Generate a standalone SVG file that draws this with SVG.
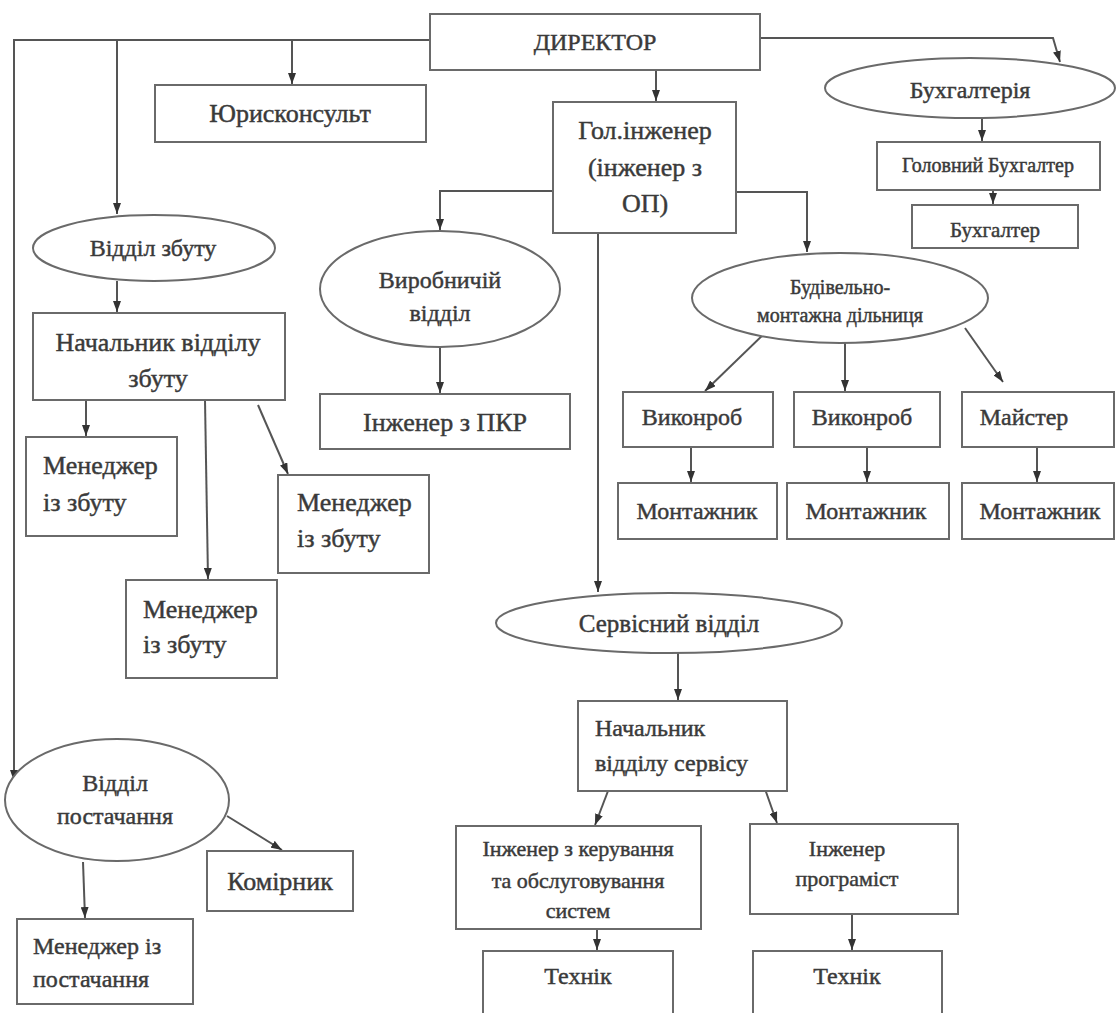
<svg xmlns="http://www.w3.org/2000/svg" width="1118" height="1013" viewBox="0 0 1118 1013">
<defs>
<style>
.n{fill:#fff;stroke:#6a6a6a;stroke-width:2}
.t{font-family:"Liberation Serif","Times New Roman",serif;fill:#3a3a3a;stroke:#3a3a3a;stroke-width:0.45;text-anchor:middle}
.l{text-anchor:start}
.f26{font-size:26px}.f25{font-size:25px}.f24{font-size:24px}.f22{font-size:22px}.f21{font-size:21px}.f20{font-size:20px}
.c{fill:none;stroke:#555;stroke-width:2;marker-end:url(#a)}
</style>
<marker id="a" viewBox="0 0 11 8" refX="11" refY="4" markerWidth="11" markerHeight="8" markerUnits="userSpaceOnUse" orient="auto">
<path d="M0,0 L11,4 L0,8 z" fill="#333"/>
</marker>
</defs>
<rect width="1118" height="1013" fill="#fff"/>
<g id="connectors">
<path class="c" d="M430,40 H14 V781"/>
<path class="c" d="M117,40 V214"/>
<path class="c" d="M292,40 V84"/>
<path class="c" d="M656,70 V101"/>
<path class="c" d="M760,38 H1053 L1060,62"/>
<path class="c" d="M982,118 V141"/>
<path class="c" d="M993,190 V204"/>
<path class="c" d="M553,191 H440 V230"/>
<path class="c" d="M736,192 H807 V252"/>
<path class="c" d="M598,233 V592"/>
<path class="c" d="M440,347 V393"/>
<path class="c" d="M768,330 L705,391"/>
<path class="c" d="M845,343 V391"/>
<path class="c" d="M965,328 L1003,382"/>
<path class="c" d="M691,447 V482"/>
<path class="c" d="M867,447 V482"/>
<path class="c" d="M1037,447 V482"/>
<path class="c" d="M117,281 V312"/>
<path class="c" d="M86,400 V436"/>
<path class="c" d="M205,400 L208,579"/>
<path class="c" d="M258,405 L288,474"/>
<path class="c" d="M678,653 V700"/>
<path class="c" d="M608,791 L595,825"/>
<path class="c" d="M765,789 L777,823"/>
<path class="c" d="M597,929 V950"/>
<path class="c" d="M852,914 V950"/>
<path class="c" d="M227,816 L282,850"/>
<path class="c" d="M83,862 L85,918"/>
</g>
<g id="director"><rect class="n" x="430" y="14" width="330" height="56"/><text class="t f24" x="595" y="50">ДИРЕКТОР</text></g>
<g id="jurist"><rect class="n" x="155" y="85" width="271" height="57"/><text class="t f26" x="290" y="122">Юрисконсульт</text></g>
<g id="chief-engineer"><rect class="n" x="553" y="102" width="183" height="131"/><text class="t f26"><tspan x="645" y="139">Гол.інженер</tspan><tspan x="645" y="176">(інженер з</tspan><tspan x="645" y="212">ОП)</tspan></text></g>
<g id="accounting"><ellipse class="n" cx="970" cy="88" rx="145" ry="30"/><text class="t f24" x="970" y="98">Бухгалтерія</text></g>
<g id="chief-accountant"><rect class="n" x="877" y="142" width="223" height="48"/><text class="t f20" x="988" y="172">Головний Бухгалтер</text></g>
<g id="accountant"><rect class="n" x="912" y="205" width="166" height="43"/><text class="t f21" x="995" y="237">Бухгалтер</text></g>
<g id="sales-dept"><ellipse class="n" cx="154" cy="248" rx="121" ry="33"/><text class="t f24" x="153" y="256">Відділ збуту</text></g>
<g id="production-dept"><ellipse class="n" cx="440" cy="289" rx="120" ry="58"/><text class="t f24"><tspan x="440" y="288">Виробничій</tspan><tspan x="440" y="321">відділ</tspan></text></g>
<g id="construction-site"><ellipse class="n" cx="840" cy="298" rx="148" ry="45"/><text class="t f20"><tspan x="840" y="294">Будівельно-</tspan><tspan x="840" y="322">монтажна дільниця</tspan></text></g>
<g id="sales-head"><rect class="n" x="33" y="313" width="252" height="87"/><text class="t f26"><tspan x="158" y="351">Начальник відділу</tspan><tspan x="158" y="387">збуту</tspan></text></g>
<g id="pkr-engineer"><rect class="n" x="320" y="394" width="250" height="55"/><text class="t f26" x="445" y="431">Інженер з ПКР</text></g>
<g id="foreman1"><rect class="n" x="623" y="392" width="150" height="55"/><text class="t f24" x="692" y="425">Виконроб</text></g>
<g id="foreman2"><rect class="n" x="794" y="392" width="146" height="55"/><text class="t f24" x="862" y="425">Виконроб</text></g>
<g id="master"><rect class="n" x="962" y="392" width="152" height="55"/><text class="t f24" x="1024" y="425">Майстер</text></g>
<g id="fitter1"><rect class="n" x="618" y="483" width="159" height="56"/><text class="t f24" x="697" y="519">Монтажник</text></g>
<g id="fitter2"><rect class="n" x="787" y="483" width="162" height="56"/><text class="t f24" x="866" y="519">Монтажник</text></g>
<g id="fitter3"><rect class="n" x="962" y="483" width="152" height="56"/><text class="t f24" x="1040" y="519">Монтажник</text></g>
<g id="sales-manager1"><rect class="n" x="26" y="437" width="151" height="99"/><text class="t l f26"><tspan x="43" y="474">Менеджер</tspan><tspan x="43" y="511">із збуту</tspan></text></g>
<g id="sales-manager2"><rect class="n" x="278" y="475" width="151" height="98"/><text class="t l f26"><tspan x="297" y="511">Менеджер</tspan><tspan x="297" y="547">із збуту</tspan></text></g>
<g id="sales-manager3"><rect class="n" x="126" y="580" width="151" height="98"/><text class="t l f26"><tspan x="143" y="618">Менеджер</tspan><tspan x="143" y="653">із збуту</tspan></text></g>
<g id="service-dept"><ellipse class="n" cx="669" cy="623" rx="173" ry="30"/><text class="t f25" x="669" y="632">Сервісний відділ</text></g>
<g id="service-head"><rect class="n" x="578" y="701" width="209" height="90"/><text class="t l f24"><tspan x="595" y="736">Начальник</tspan><tspan x="595" y="771">відділу сервісу</tspan></text></g>
<g id="control-engineer"><rect class="n" x="456" y="826" width="245" height="103"/><text class="t f22"><tspan x="578" y="856">Інженер з керування</tspan><tspan x="578" y="888">та обслуговування</tspan><tspan x="578" y="918">систем</tspan></text></g>
<g id="programmer"><rect class="n" x="750" y="824" width="208" height="90"/><text class="t f22"><tspan x="847" y="856">Інженер</tspan><tspan x="847" y="886">програміст</tspan></text></g>
<g id="technician1"><rect class="n" x="483" y="951" width="190" height="70"/><text class="t f24" x="578" y="984">Технік</text></g>
<g id="technician2"><rect class="n" x="753" y="951" width="189" height="70"/><text class="t f24" x="847" y="984">Технік</text></g>
<g id="supply-dept"><ellipse class="n" cx="117" cy="800" rx="112" ry="61"/><text class="t f24"><tspan x="115" y="791">Відділ</tspan><tspan x="115" y="824">постачання</tspan></text></g>
<g id="storekeeper"><rect class="n" x="207" y="851" width="146" height="60"/><text class="t f26" x="280" y="890">Комірник</text></g>
<g id="supply-manager"><rect class="n" x="17" y="919" width="176" height="85"/><text class="t l f24"><tspan x="33" y="954">Менеджер із</tspan><tspan x="33" y="987">постачання</tspan></text></g>
</svg>
